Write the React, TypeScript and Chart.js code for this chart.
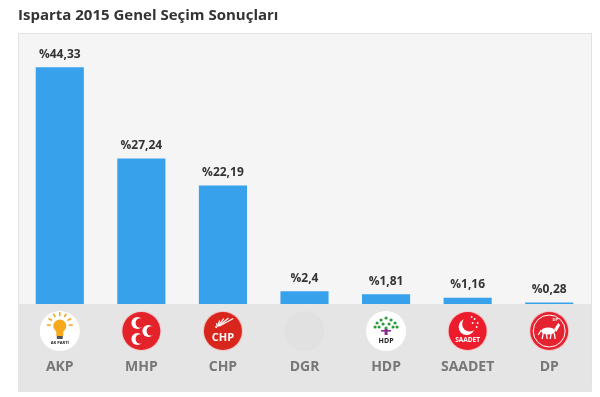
import React, { useEffect, useRef } from "react";
import { Chart, registerables } from "chart.js";

Chart.register(...registerables);

const TITLE = "Isparta 2015 Genel Seçim Sonuçları";
const parties = ["AKP", "MHP", "CHP", "DGR", "HDP", "SAADET", "DP"];
const shares = [44.33, 27.24, 22.19, 2.4, 1.81, 1.16, 0.28];
const shareLabels = ["%44,33", "%27,24", "%22,19", "%2,4", "%1,81", "%1,16", "%0,28"];

const FONT = "'Open Sans', 'DejaVu Sans', sans-serif";
const RED = "#e3222a";

function crescent(ctx: CanvasRenderingContext2D, x: number, y: number, r: number, dx: number, dy: number, bg: string) {
  ctx.fillStyle = "#fff";
  ctx.beginPath();
  ctx.arc(x, y, r, 0, Math.PI * 2);
  ctx.fill();
  ctx.fillStyle = bg;
  ctx.beginPath();
  ctx.arc(x + dx, y + dy, r * 0.8, 0, Math.PI * 2);
  ctx.fill();
}

function drawLogo(ctx: CanvasRenderingContext2D, name: string, x: number, y: number) {
  const r = 20;
  ctx.save();
  const circle = (fill: string, rr = r) => {
    ctx.fillStyle = fill;
    ctx.beginPath();
    ctx.arc(x, y, rr, 0, Math.PI * 2);
    ctx.fill();
  };
  ctx.textAlign = "center";
  ctx.textBaseline = "middle";
  if (name === "AKP") {
    circle("#ffffff");
    ctx.strokeStyle = "#f2a41c";
    ctx.lineWidth = 1.5;
    for (let i = 0; i < 7; i++) {
      const a = Math.PI + (i * Math.PI) / 6;
      ctx.beginPath();
      ctx.moveTo(x + Math.cos(a) * 9, y - 6 + Math.sin(a) * 9);
      ctx.lineTo(x + Math.cos(a) * 13, y - 6 + Math.sin(a) * 13);
      ctx.stroke();
    }
    ctx.fillStyle = "#f7a81b";
    ctx.beginPath();
    ctx.arc(x, y - 5, 6.5, 0, Math.PI * 2);
    ctx.fill();
    ctx.fillRect(x - 3.5, y - 1, 7, 6);
    ctx.fillStyle = "#555";
    ctx.fillRect(x - 3, y + 5, 6, 3);
    ctx.fillStyle = "#222";
    ctx.font = `bold 4px ${FONT}`;
    ctx.fillText("AK PARTİ", x, y + 12);
  } else if (name === "MHP") {
    circle("#f3c9cb");
    circle(RED, r - 1);
    crescent(ctx, x - 4, y - 8, 6, 3, 0, RED);
    crescent(ctx, x + 7, y + 0, 6, 3, 0, RED);
    crescent(ctx, x - 4, y + 8, 6, 3, 0, RED);
  } else if (name === "CHP") {
    circle("#f0c4c4");
    circle("#d9261c", r - 1);
    ctx.strokeStyle = "#fff";
    ctx.lineWidth = 1.2;
    for (let i = 0; i < 6; i++) {
      const a = -Math.PI * 0.95 + (i * Math.PI * 0.55) / 5;
      ctx.beginPath();
      ctx.moveTo(x - 4 + Math.cos(a) * 2, y - 3 + Math.sin(a) * 2);
      ctx.lineTo(x - 4 + Math.cos(a) * 14 + 10, y - 3 + Math.sin(a) * 10);
      ctx.stroke();
    }
    ctx.fillStyle = "#fff";
    ctx.font = `bold 11px ${FONT}`;
    ctx.fillText("CHP", x, y + 7);
  } else if (name === "DGR") {
    circle("#e1e1e1");
  } else if (name === "HDP") {
    circle("#ffffff");
    ctx.fillStyle = "#2e9a3a";
    const pts = [[0, -13], [-5, -11], [5, -11], [-9, -8], [9, -8], [-3, -7], [3, -7], [-7, -4], [7, -4], [0, -3], [-11, -4], [11, -4]];
    for (const [dx, dy] of pts) {
      ctx.beginPath();
      ctx.arc(x + dx, y + dy, 1.6, 0, Math.PI * 2);
      ctx.fill();
    }
    ctx.fillStyle = "#8a2a8e";
    ctx.fillRect(x - 1.5, y - 2, 3, 6);
    ctx.fillRect(x - 5, y - 1, 10, 1.6);
    ctx.fillStyle = "#222";
    ctx.font = `bold 7px ${FONT}`;
    ctx.fillText("HDP", x, y + 10);
  } else if (name === "SAADET") {
    circle("#f7c7c9");
    circle("#ec1c2c", r - 1);
    ctx.fillStyle = "#fff";
    ctx.beginPath();
    ctx.arc(x - 1, y - 4, 8, 0, Math.PI * 2);
    ctx.fill();
    ctx.fillStyle = "#ec1c2c";
    ctx.beginPath();
    ctx.arc(x + 2, y - 7, 7.5, 0, Math.PI * 2);
    ctx.fill();
    ctx.fillStyle = "#fff";
    const st = [[7, -12], [10, -8], [5, -8], [9, -4], [4, -14]];
    for (const [dx, dy] of st) {
      ctx.beginPath();
      ctx.arc(x + dx, y + dy, 0.9, 0, Math.PI * 2);
      ctx.fill();
    }
    ctx.font = `bold 6.5px ${FONT}`;
    ctx.fillText("SAADET", x, y + 9);
  } else if (name === "DP") {
    circle("#f4c3c6");
    circle("#e52330", r - 1);
    ctx.strokeStyle = "#fff";
    ctx.lineWidth = 1;
    ctx.beginPath();
    ctx.arc(x, y, 16, 0, Math.PI * 2);
    ctx.stroke();
    ctx.fillStyle = "#fff";
    ctx.beginPath();
    ctx.ellipse(x - 1, y, 7, 3.5, 0, 0, Math.PI * 2);
    ctx.fill();
    ctx.beginPath();
    ctx.moveTo(x + 5, y - 2);
    ctx.lineTo(x + 9, y - 8);
    ctx.lineTo(x + 11, y - 6);
    ctx.lineTo(x + 7, y + 1);
    ctx.closePath();
    ctx.fill();
    ctx.strokeStyle = "#fff";
    ctx.lineWidth = 1.3;
    for (const dx of [-6, -3, 2, 5]) {
      ctx.beginPath();
      ctx.moveTo(x + dx, y + 2);
      ctx.lineTo(x + dx + (dx % 2 ? 1 : -1), y + 8);
      ctx.stroke();
    }
    ctx.beginPath();
    ctx.moveTo(x - 8, y - 1);
    ctx.lineTo(x - 11, y + 4);
    ctx.stroke();
    ctx.font = `bold 4px ${FONT}`;
    ctx.fillText("DP", x + 6, y - 11);
  }
  ctx.restore();
}

const framePlugin = {
  id: "frame",
  beforeDraw(chart: any) {
    const { ctx, chartArea } = chart;
    ctx.save();
    ctx.fillStyle = "#ffffff";
    ctx.fillRect(0, 0, chart.width, chart.height);
    ctx.fillStyle = "#f5f5f5";
    ctx.fillRect(18, 33, 574, 359);
    ctx.strokeStyle = "#e3e3e3";
    ctx.lineWidth = 1;
    ctx.strokeRect(18.5, 33.5, 573, 358);
    ctx.fillStyle = "#e5e5e5";
    ctx.fillRect(19, chartArea.bottom, 572, 391 - chartArea.bottom);
    ctx.fillStyle = "#333333";
    ctx.font = `bold 15px ${FONT}`;
    ctx.textAlign = "left";
    ctx.textBaseline = "alphabetic";
    ctx.fillText(TITLE, 18, 20);
    ctx.restore();
  },
  afterDatasetsDraw(chart: any) {
    const { ctx } = chart;
    const meta = chart.getDatasetMeta(0);
    const xScale = chart.scales.x;
    ctx.save();
    ctx.textAlign = "center";
    ctx.textBaseline = "middle";
    ctx.fillStyle = "#333333";
    ctx.font = `bold 12px ${FONT}`;
    meta.data.forEach((bar: any, i: number) => {
      ctx.fillText(shareLabels[i], bar.x, bar.y - 13);
    });
    parties.forEach((p, i) => {
      const x = xScale.getPixelForValue(i);
      drawLogo(ctx, p, x, 331);
      ctx.fillStyle = "#777777";
      ctx.font = `bold 14px ${FONT}`;
      ctx.textAlign = "center";
      ctx.textBaseline = "middle";
      ctx.fillText(p, x, 367);
    });
    ctx.restore();
  },
};

export default function App() {
  const ref = useRef<HTMLCanvasElement>(null);
  useEffect(() => {
    if (!ref.current) return;
    const chart = new Chart(ref.current, {
      type: "bar",
      data: {
        labels: parties,
        datasets: [
          {
            data: shares,
            backgroundColor: "#38a1ec",
            borderWidth: 0,
            categoryPercentage: 1,
            barPercentage: 0.59,
          },
        ],
      },
      options: {
        responsive: false,
        animation: false,
        layout: { padding: { left: 19, right: 10, top: 37, bottom: 93 } },
        plugins: { legend: { display: false }, title: { display: false }, tooltip: { enabled: false } },
        scales: {
          x: { display: false },
          y: { display: false, min: 0, max: 50 },
        },
      },
      plugins: [framePlugin],
    });
    return () => chart.destroy();
  }, []);
  return (
    <div style={{ position: "absolute", left: 0, top: 0, width: 600, height: 397 }}>
      <canvas ref={ref} width={600} height={397} />
    </div>
  );
}
